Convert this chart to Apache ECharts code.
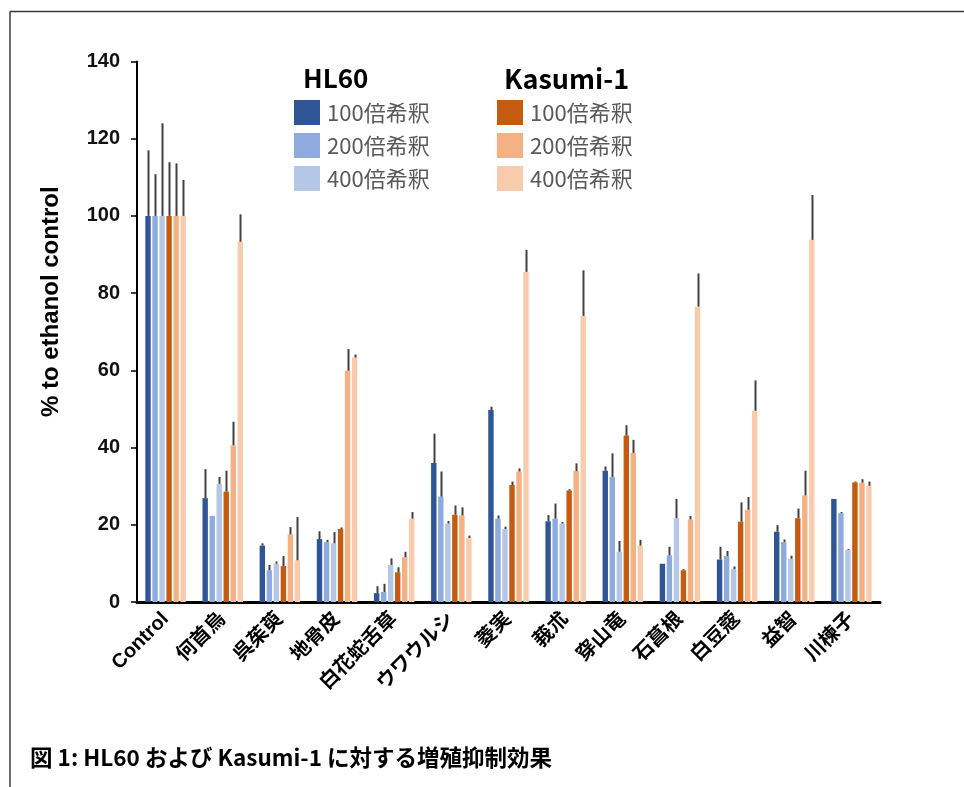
<!DOCTYPE html>
<html>
<head>
<meta charset="utf-8">
<script src="https://cdn.jsdelivr.net/npm/echarts@6/dist/echarts.min.js"></script>
<style>
html,body{margin:0;padding:0;background:#fff;}
#chart{width:964px;height:787px;}
</style>
</head>
<body>
<div id="chart"></div>
<script>
// ---- data ----
const categories = ['Control','何首烏','呉茱萸','地骨皮','白花蛇舌草','ウワウルシ','菱実','莪朮','穿山竜','石菖根','白豆蔲','益智','川楝子'];
const seriesNames = ['HL60 100倍希釈','HL60 200倍希釈','HL60 400倍希釈','Kasumi-1 100倍希釈','Kasumi-1 200倍希釈','Kasumi-1 400倍希釈'];
const legendLabels = ['100倍希釈','200倍希釈','400倍希釈'];
const groupTitles = ['HL60','Kasumi-1'];
const yTicks = [0,20,40,60,80,100,120,140];

const hl60_100 = [100, 26.9, 14.6, 16.3, 2.3, 36.0, 49.7, 20.9, 34.0, 9.9, 11.0, 18.2, 26.7];
const hl60_100_sd = [17.0, 7.5, 0.6, 2.0, 1.8, 7.6, 0.9, 1.6, 1.1, 0, 3.3, 1.7, 0];
const hl60_200 = [100, 22.3, 8.2, 15.5, 2.6, 27.3, 21.6, 21.6, 32.4, 12.1, 11.9, 15.5, 23.0];
const hl60_200_sd = [10.8, 0, 1.4, 0.6, 2.1, 6.5, 0.8, 3.9, 6.1, 2.2, 1.3, 0.7, 0.3];
const hl60_400 = [100, 30.6, 9.9, 15.2, 9.6, 20.3, 18.9, 20.3, 13.0, 21.7, 8.5, 11.2, 13.5];
const hl60_400_sd = [24.0, 1.8, 0.6, 2.9, 1.7, 0.7, 0.6, 0.4, 2.8, 5.0, 0.7, 0.8, 0.2];
const kas_100 = [100, 28.6, 9.3, 18.9, 7.7, 22.6, 30.3, 28.9, 43.1, 8.2, 20.8, 21.7, 31.0];
const kas_100_sd = [13.9, 5.4, 2.6, 0.4, 1.3, 2.4, 0.9, 0.3, 2.7, 0.3, 5.0, 2.5, 0.2];
const kas_200 = [100, 40.6, 17.5, 59.9, 11.6, 22.4, 33.8, 33.9, 38.6, 21.4, 23.9, 27.6, 30.9];
const kas_200_sd = [13.6, 6.1, 1.9, 5.6, 1.4, 2.1, 0.8, 2.0, 3.4, 0.9, 3.3, 6.4, 0.9];
const kas_400 = [100, 93.3, 10.8, 63.3, 21.6, 16.6, 85.5, 74.1, 14.6, 76.5, 49.5, 93.8, 30.1];
const kas_400_sd = [9.3, 7.1, 11.2, 0.8, 1.7, 0.6, 5.7, 11.8, 1.5, 8.6, 7.9, 11.6, 1.1];

const values = [hl60_100, hl60_200, hl60_400, kas_100, kas_200, kas_400];
const sds = [hl60_100_sd, hl60_200_sd, hl60_400_sd, kas_100_sd, kas_200_sd, kas_400_sd];
const colors = ['#2F5597','#8FAADC','#B4C7E7','#C55A11','#F4B183','#F8CBAD'];

// ---- layout ----
const BAR_W = 5.4;
const GAP_PCT = 0.3;
const GAP = BAR_W * GAP_PCT;
const N = 6;
const TOTAL = N * BAR_W + (N - 1) * GAP;
function offsetOf(i){ return -TOTAL/2 + i*(BAR_W+GAP) + BAR_W/2; }

const chart = echarts.init(document.getElementById('chart'), null, {renderer:'canvas'});

const series = [];
values.forEach((v, i) => {
  series.push({
    name: seriesNames[i],
    type: 'bar',
    data: v,
    barWidth: BAR_W,
    barGap: (GAP_PCT*100) + '%',
    itemStyle: {color: colors[i]},
    z: 2
  });
});
values.forEach((v, i) => {
  series.push({
    name: 'err' + i,
    type: 'custom',
    data: v.map((val, k) => [k, val, sds[i][k]]),
    encode: {x: 0, y: 1},
    z: 3,
    silent: true,
    renderItem: function(params, api){
      const sd = api.value(2);
      if (!sd) return null;
      const p0 = api.coord([api.value(0), api.value(1)]);
      const p1 = api.coord([api.value(0), api.value(1) + sd]);
      const x = Math.round(p0[0] + offsetOf(i)) + 0.5;
      return {
        type: 'line',
        shape: {x1: x, y1: p0[1], x2: x, y2: p1[1]},
        style: {stroke: '#404040', lineWidth: 2}
      };
    }
  });
});

const legendCommon = {
  orient: 'vertical',
  top: 95,
  itemWidth: 26,
  itemHeight: 25,
  itemGap: 8,
  icon: 'rect',
  selectedMode: false,
  textStyle: {
    fontFamily: 'Noto Sans CJK JP',
    fontSize: 22,
    color: '#595959',
    padding: [0, 0, 0, 2]
  },
  formatter: function(name){ return name.split(' ')[1]; }
};

const option = {
  animation: false,
  backgroundColor: '#fff',
  grid: {left: 137, right: 84, top: 61.5, bottom: 185, containLabel: false},
  title: [
    {text: groupTitles[0], left: 298, top: 60, textStyle: {fontFamily: 'Noto Sans CJK JP', fontWeight: 'bold', fontSize: 26, color: '#000'}},
    {text: groupTitles[1], left: 499, top: 60, textStyle: {fontFamily: 'Noto Sans CJK JP', fontWeight: 'bold', fontSize: 27, color: '#000'}}
  ],
  legend: [
    Object.assign({}, legendCommon, {left: 289, data: seriesNames.slice(0,3)}),
    Object.assign({}, legendCommon, {left: 492, data: seriesNames.slice(3,6)})
  ],
  xAxis: {
    type: 'category',
    data: categories,
    axisLine: {show: true, lineStyle: {color: '#000', width: 3}},
    axisTick: {show: false},
    axisLabel: {
      rotate: 45,
      interval: 0,
      margin: 14,
      fontFamily: 'Liberation Sans, Noto Sans CJK JP',
      fontWeight: 'bold',
      fontSize: 20,
      color: '#000'
    }
  },
  yAxis: {
    type: 'value',
    min: yTicks[0],
    max: yTicks[yTicks.length-1],
    interval: 20,
    name: '% to ethanol control',
    nameLocation: 'middle',
    nameGap: 74,
    nameTextStyle: {fontFamily: 'Liberation Sans', fontWeight: 'bold', fontSize: 24, color: '#000', padding: [0, 0, 0, 60]},
    axisLine: {show: true, lineStyle: {color: '#000', width: 2}},
    axisTick: {show: true, inside: false, length: 6, lineStyle: {color: '#000', width: 1.5}},
    splitLine: {show: false},
    axisLabel: {
      margin: 17,
      fontFamily: 'Liberation Sans',
      fontWeight: 'bold',
      fontSize: 20,
      color: '#111'
    }
  },
  series: series,
  graphic: [
    {type: 'line', shape: {x1: 10, y1: 11.5, x2: 964, y2: 11.5}, style: {stroke: '#3a3a3a', lineWidth: 1.5}},
    {type: 'line', shape: {x1: 10, y1: 11.5, x2: 10, y2: 787}, style: {stroke: '#3a3a3a', lineWidth: 1.5}},
    {type: 'text', left: 30, top: 746, style: {text: '図 1: HL60 および Kasumi-1 に対する増殖抑制効果', font: 'bold 22.5px "Noto Sans CJK JP"', fill: '#000'}}
  ]
};

chart.setOption(option);
</script>
</body>
</html>
